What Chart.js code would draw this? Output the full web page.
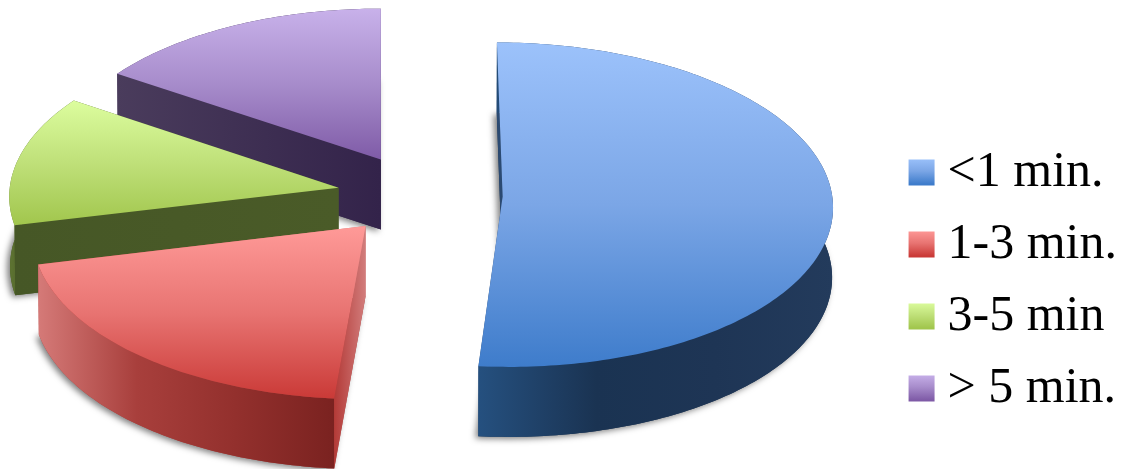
<!DOCTYPE html>
<html>
<head>
<meta charset="utf-8">
<title>Duration</title>
<script src="https://cdn.jsdelivr.net/npm/chart.js@4/dist/chart.umd.min.js"></script>
<style>
  html, body { margin: 0; padding: 0; background: #fff; }
  canvas { display: block; }
</style>
</head>
<body>
<canvas id="pie" width="1125" height="469"></canvas>
<script>
var categories = ['<1 min.', '1-3 min.', '3-5 min', '> 5 min.']
var shares = [51.4, 19.9, 13.1, 15.6]

var flatColors = ['#4f81bd', '#c0504d', '#9bbb59', '#8064a2']
// top face: vertical light to dark
var topStops = [
    ['#9cc2fb', '#7ba6e6', '#3e7ccb'],
    ['#ff9a98', '#e87472', '#ca3a37'],
    ['#dcfd9e', '#bfe079', '#a1c64d'],
    ['#c8b1ea', '#a78ccb', '#7f5ba7']
]
// outer wall: horizontal gradient, left to right
var wallStops = [
    ['#25507f', '#1a3352', '#1e3555', '#233b5c'],
    ['#d57a78', '#a83f3c', '#93302d', '#7a2220'],
    ['#5f7532', '#465726', '#465726', '#465726'],
    ['#4a3c5c', '#3e2f52', '#33234a', '#33234a']
]
// the straight cut faces
var cutStops = [
    ['#2b4a72', '#2b4a72'],
    ['#b33a37', '#d27d7c'],
    ['#465726', '#4a5b28'],
    ['#4a3c5c', '#33234a']
]

var explode = 83
var pieRadius = 330.5
var tilt = 0.492
var depth = 70
var centerX = 420
var centerY = 195
var vanishX = 380
var horizonY = 205
var convergence = 0.0003
var depthShrink = 0.00003

var legendBoxTop = 158
var legendStep = 72
var legendBoxSize = 26

// flat tilted position -> screen, with a little perspective
function project(x, y, z) {
    var t = y - horizonY
    var s = 1 / (1 - convergence * t)
    var zs = 1 - z * depthShrink
    return { x: vanishX + (x - vanishX) * s * zs, y: horizonY + t * s + z }
}

function rimPoints(arc, z) {
    var mid = (arc.startAngle + arc.endAngle) / 2
    var off = arc.options.offset
    var ax = centerX + Math.cos(mid) * off
    var ay = centerY + Math.sin(mid) * off * tilt
    var pts = []
    var steps = Math.ceil((arc.endAngle - arc.startAngle) / (Math.PI / 180))
    for (var i = 0; i <= steps; i++) {
        var a = arc.startAngle + (arc.endAngle - arc.startAngle) * i / steps
        pts.push(project(ax + pieRadius * Math.cos(a), ay + pieRadius * tilt * Math.sin(a), z))
    }
    return { apex: project(ax, ay, z), rim: pts }
}

function tracePoly(ctx, pts) {
    ctx.beginPath()
    pts.forEach(function(p, i) {
        if (i == 0) ctx.moveTo(p.x, p.y)
        else ctx.lineTo(p.x, p.y)
    })
    ctx.closePath()
}

function gradient(ctx, x0, y0, x1, y1, stops) {
    var g = ctx.createLinearGradient(x0, y0, x1, y1)
    stops.forEach(function(c, i) {
        g.addColorStop(i / (stops.length - 1), c)
    })
    return g
}

function fillCut(ctx, a, b, c, d, stops) {
    var x0 = Math.min(a.x, b.x, c.x, d.x)
    var x1 = Math.max(a.x, b.x, c.x, d.x)
    tracePoly(ctx, [a, b, c, d])
    ctx.fillStyle = gradient(ctx, x0, 0, x1 + 0.01, 0, stops)
    ctx.fill()
}

function drawSlice(ctx, arc, i) {
    var top = rimPoints(arc, 0)
    var low = rimPoints(arc, depth)
    var n = top.rim.length - 1

    // prism floor casts the soft shadow
    ctx.save()
    ctx.shadowColor = 'rgba(0,0,0,0.5)'
    ctx.shadowBlur = 6
    ctx.shadowOffsetX = -3
    ctx.shadowOffsetY = 2
    tracePoly(ctx, [low.apex].concat(low.rim))
    ctx.fillStyle = wallStops[i][1]
    ctx.fill()
    ctx.restore()

    var startFront = Math.cos(arc.startAngle) < -0.001
    var endFront = Math.cos(arc.endAngle) > 0.001

    if (!startFront) fillCut(ctx, top.apex, top.rim[0], low.rim[0], low.apex, cutStops[i])
    if (!endFront) fillCut(ctx, top.apex, top.rim[n], low.rim[n], low.apex, cutStops[i])

    var xs = top.rim.concat(low.rim).map(function(p) { return p.x })
    var wall = top.rim.concat(low.rim.slice().reverse())
    tracePoly(ctx, wall)
    ctx.fillStyle = gradient(ctx, Math.min.apply(null, xs), 0, Math.max.apply(null, xs), 0, wallStops[i])
    ctx.fill()

    if (startFront) fillCut(ctx, top.apex, top.rim[0], low.rim[0], low.apex, cutStops[i])
    if (endFront) fillCut(ctx, top.apex, top.rim[n], low.rim[n], low.apex, cutStops[i])

    var outline = [top.apex].concat(top.rim)
    var ys = outline.map(function(p) { return p.y })
    tracePoly(ctx, outline)
    ctx.fillStyle = gradient(ctx, 0, Math.min.apply(null, ys), 0, Math.max.apply(null, ys), topStops[i])
    ctx.fill()
}

var extrudedPie = {
    id: 'extrudedPie',
    beforeDatasetsDraw: function(chart) {
        var ctx = chart.ctx
        var arcs = chart.getDatasetMeta(0).data
        // back to front
        ;[3, 2, 1, 0].forEach(function(i) {
            drawSlice(ctx, arcs[i], i)
        })
        return false
    }
}

var canvas = document.getElementById('pie')

new Chart(canvas, {
    type: 'pie',
    data: {
        labels: categories,
        datasets: [{
            data: shares,
            backgroundColor: flatColors,
            borderWidth: 0,
            offset: explode
        }]
    },
    options: {
        responsive: false,
        animation: false,
        events: [],
        layout: { padding: { top: 92, right: -2 } },
        plugins: {
            tooltip: { enabled: false },
            legend: {
                position: 'right',
                labels: {
                    boxWidth: 2,
                    boxHeight: 2,
                    padding: 22,
                    color: '#000',
                    font: { family: '"Liberation Serif", serif', size: 50, lineHeight: 1 },
                    // tiny box with a thick border of the same gradient, keeps the text close
                    generateLabels: function(chart) {
                        var ctx = chart.ctx
                        return categories.map(function(text, i) {
                            var y = legendBoxTop + i * legendStep
                            var g = gradient(ctx, 0, y, 0, y + legendBoxSize, topStops[i])
                            return {
                                text: text,
                                fillStyle: g,
                                strokeStyle: g,
                                lineWidth: 24,
                                fontColor: '#000',
                                hidden: false,
                                index: i
                            }
                        })
                    }
                }
            }
        }
    },
    plugins: [extrudedPie]
})
</script>
</body>
</html>
